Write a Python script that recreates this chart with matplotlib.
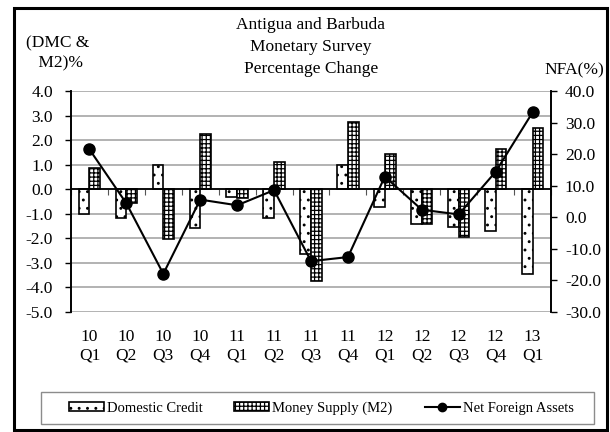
import matplotlib as mpl
import matplotlib.pyplot as plt
from matplotlib.lines import Line2D
from matplotlib.patches import Patch, Rectangle
import numpy as np

QUARTERS = ["10\nQ1", "10\nQ2", "10\nQ3", "10\nQ4", "11\nQ1", "11\nQ2", "11\nQ3",
            "11\nQ4", "12\nQ1", "12\nQ2", "12\nQ3", "12\nQ4", "13\nQ1"]
DOMESTIC_CREDIT = [-1.02, -1.18, 0.97, -1.56, -0.32, -1.18, -2.64, 0.98, -0.74, -1.42, -1.52, -1.69, -3.45]
MONEY_SUPPLY = [0.88, -0.55, -2.04, 2.23, -0.35, 1.12, -3.72, 2.72, 1.45, -1.42, -1.93, 1.65, 2.48]
NET_FOREIGN_ASSETS = [21.5, 4.4, -17.9, 5.6, 3.8, 8.6, -13.9, -12.6, 12.9, 2.4, 0.9, 14.4, 33.2]

LEFT_TICKS = np.arange(-5, 5, 1)
RIGHT_TICKS = np.arange(-30, 50, 10)

INK = "#000000"
GRID = "#A6A6A6"

mpl.rcParams.update({
    "font.family": ["Liberation Serif", "DejaVu Serif"],
    "font.size": 12.5,
    "hatch.linewidth": 0.9,
    "axes.linewidth": 1.2,
})

fig = plt.figure(figsize=(6.1, 4.32), dpi=100)
ax = fig.add_axes([71 / 610, 1 - 312 / 432, 480 / 610, 221 / 432])
ax2 = ax.twinx()

x = np.arange(len(QUARTERS))
w = 0.29
ax.bar(x - w / 2, DOMESTIC_CREDIT, w, facecolor="white", edgecolor=INK, hatch="..", linewidth=1.2, zorder=3)
ax.bar(x + w / 2, MONEY_SUPPLY, w, facecolor="white", edgecolor=INK, hatch="++++", linewidth=1.2, zorder=3)
ax.axhline(0, color=INK, linewidth=1.3, zorder=4)

ax.set_xlim(-0.5, len(QUARTERS) - 0.5)
ax.set_ylim(-5, 4)
ax.set_yticks(LEFT_TICKS)
ax.set_yticklabels([f"{v:.1f}" for v in LEFT_TICKS])
ax.yaxis.grid(True, color=GRID, linewidth=1.2, zorder=0)
ax.set_axisbelow(True)
ax.tick_params(axis="y", direction="out", length=4, width=1, pad=9, labelsize=12.5)

# category axis sits on the zero line, labels sit at the bottom
ax.spines["bottom"].set_position(("data", 0))
ax.spines["bottom"].set_visible(False)
ax.spines["top"].set_visible(False)
ax.set_xticks(np.arange(-0.5, len(QUARTERS), 1))
ax.tick_params(axis="x", direction="out", length=4, width=0.8, color="#555555", labelbottom=False)
sec = ax.secondary_xaxis(0)
sec.set_xticks(x)
sec.set_xticklabels(QUARTERS, linespacing=1.2)
sec.tick_params(length=0, pad=12, labelsize=12.5)
sec.spines["bottom"].set_visible(False)

ax2.plot(x, NET_FOREIGN_ASSETS, color=INK, linewidth=1.5, marker="o", markersize=8, zorder=5)
ax2.set_ylim(-30, 40)
ax2.set_yticks(RIGHT_TICKS)
ax2.set_yticklabels([f"{v:.1f}" for v in RIGHT_TICKS])
ax2.tick_params(axis="y", direction="out", length=4, width=1, pad=6, labelsize=12.5)
ax2.spines["top"].set_visible(False)
ax2.spines["bottom"].set_visible(False)

fig.text(311 / 610, 1 - 47 / 432, "Antigua and Barbuda\nMonetary Survey\nPercentage Change",
         ha="center", va="center", fontsize=12.5, linespacing=1.5)
fig.text(58 / 610, 1 - 53 / 432, "(DMC &\n M2)%", ha="center", va="center", fontsize=12.5, linespacing=1.35)
fig.text(574 / 610, 1 - 70 / 432, "NFA(%)", ha="center", va="center", fontsize=12.5)

handles = [
    Patch(facecolor="white", edgecolor=INK, hatch="..", linewidth=1.2, label="Domestic Credit"),
    Patch(facecolor="white", edgecolor=INK, hatch="++++", linewidth=1.2, label="Money Supply (M2)"),
    Line2D([], [], color=INK, linewidth=1.5, marker="o", markersize=6, label="Net Foreign Assets"),
]
fig.legend(handles=handles, loc="center", bbox_to_anchor=(321 / 610, 1 - 408 / 432), ncol=3,
           fontsize=10.5, frameon=False, handlelength=2.4, handleheight=0.5,
           handletextpad=0.2, columnspacing=2.2)
fig.add_artist(Rectangle((41 / 610, 1 - 424 / 432), 553 / 610, 32 / 432, transform=fig.transFigure,
                         fill=False, edgecolor="#8C8C8C", linewidth=1.0))

fig.add_artist(Rectangle((14 / 610, 2 / 432), 593 / 610, 422 / 432, transform=fig.transFigure,
                         fill=False, edgecolor=INK, linewidth=2.2))

fig.savefig("out.png", dpi=100)
